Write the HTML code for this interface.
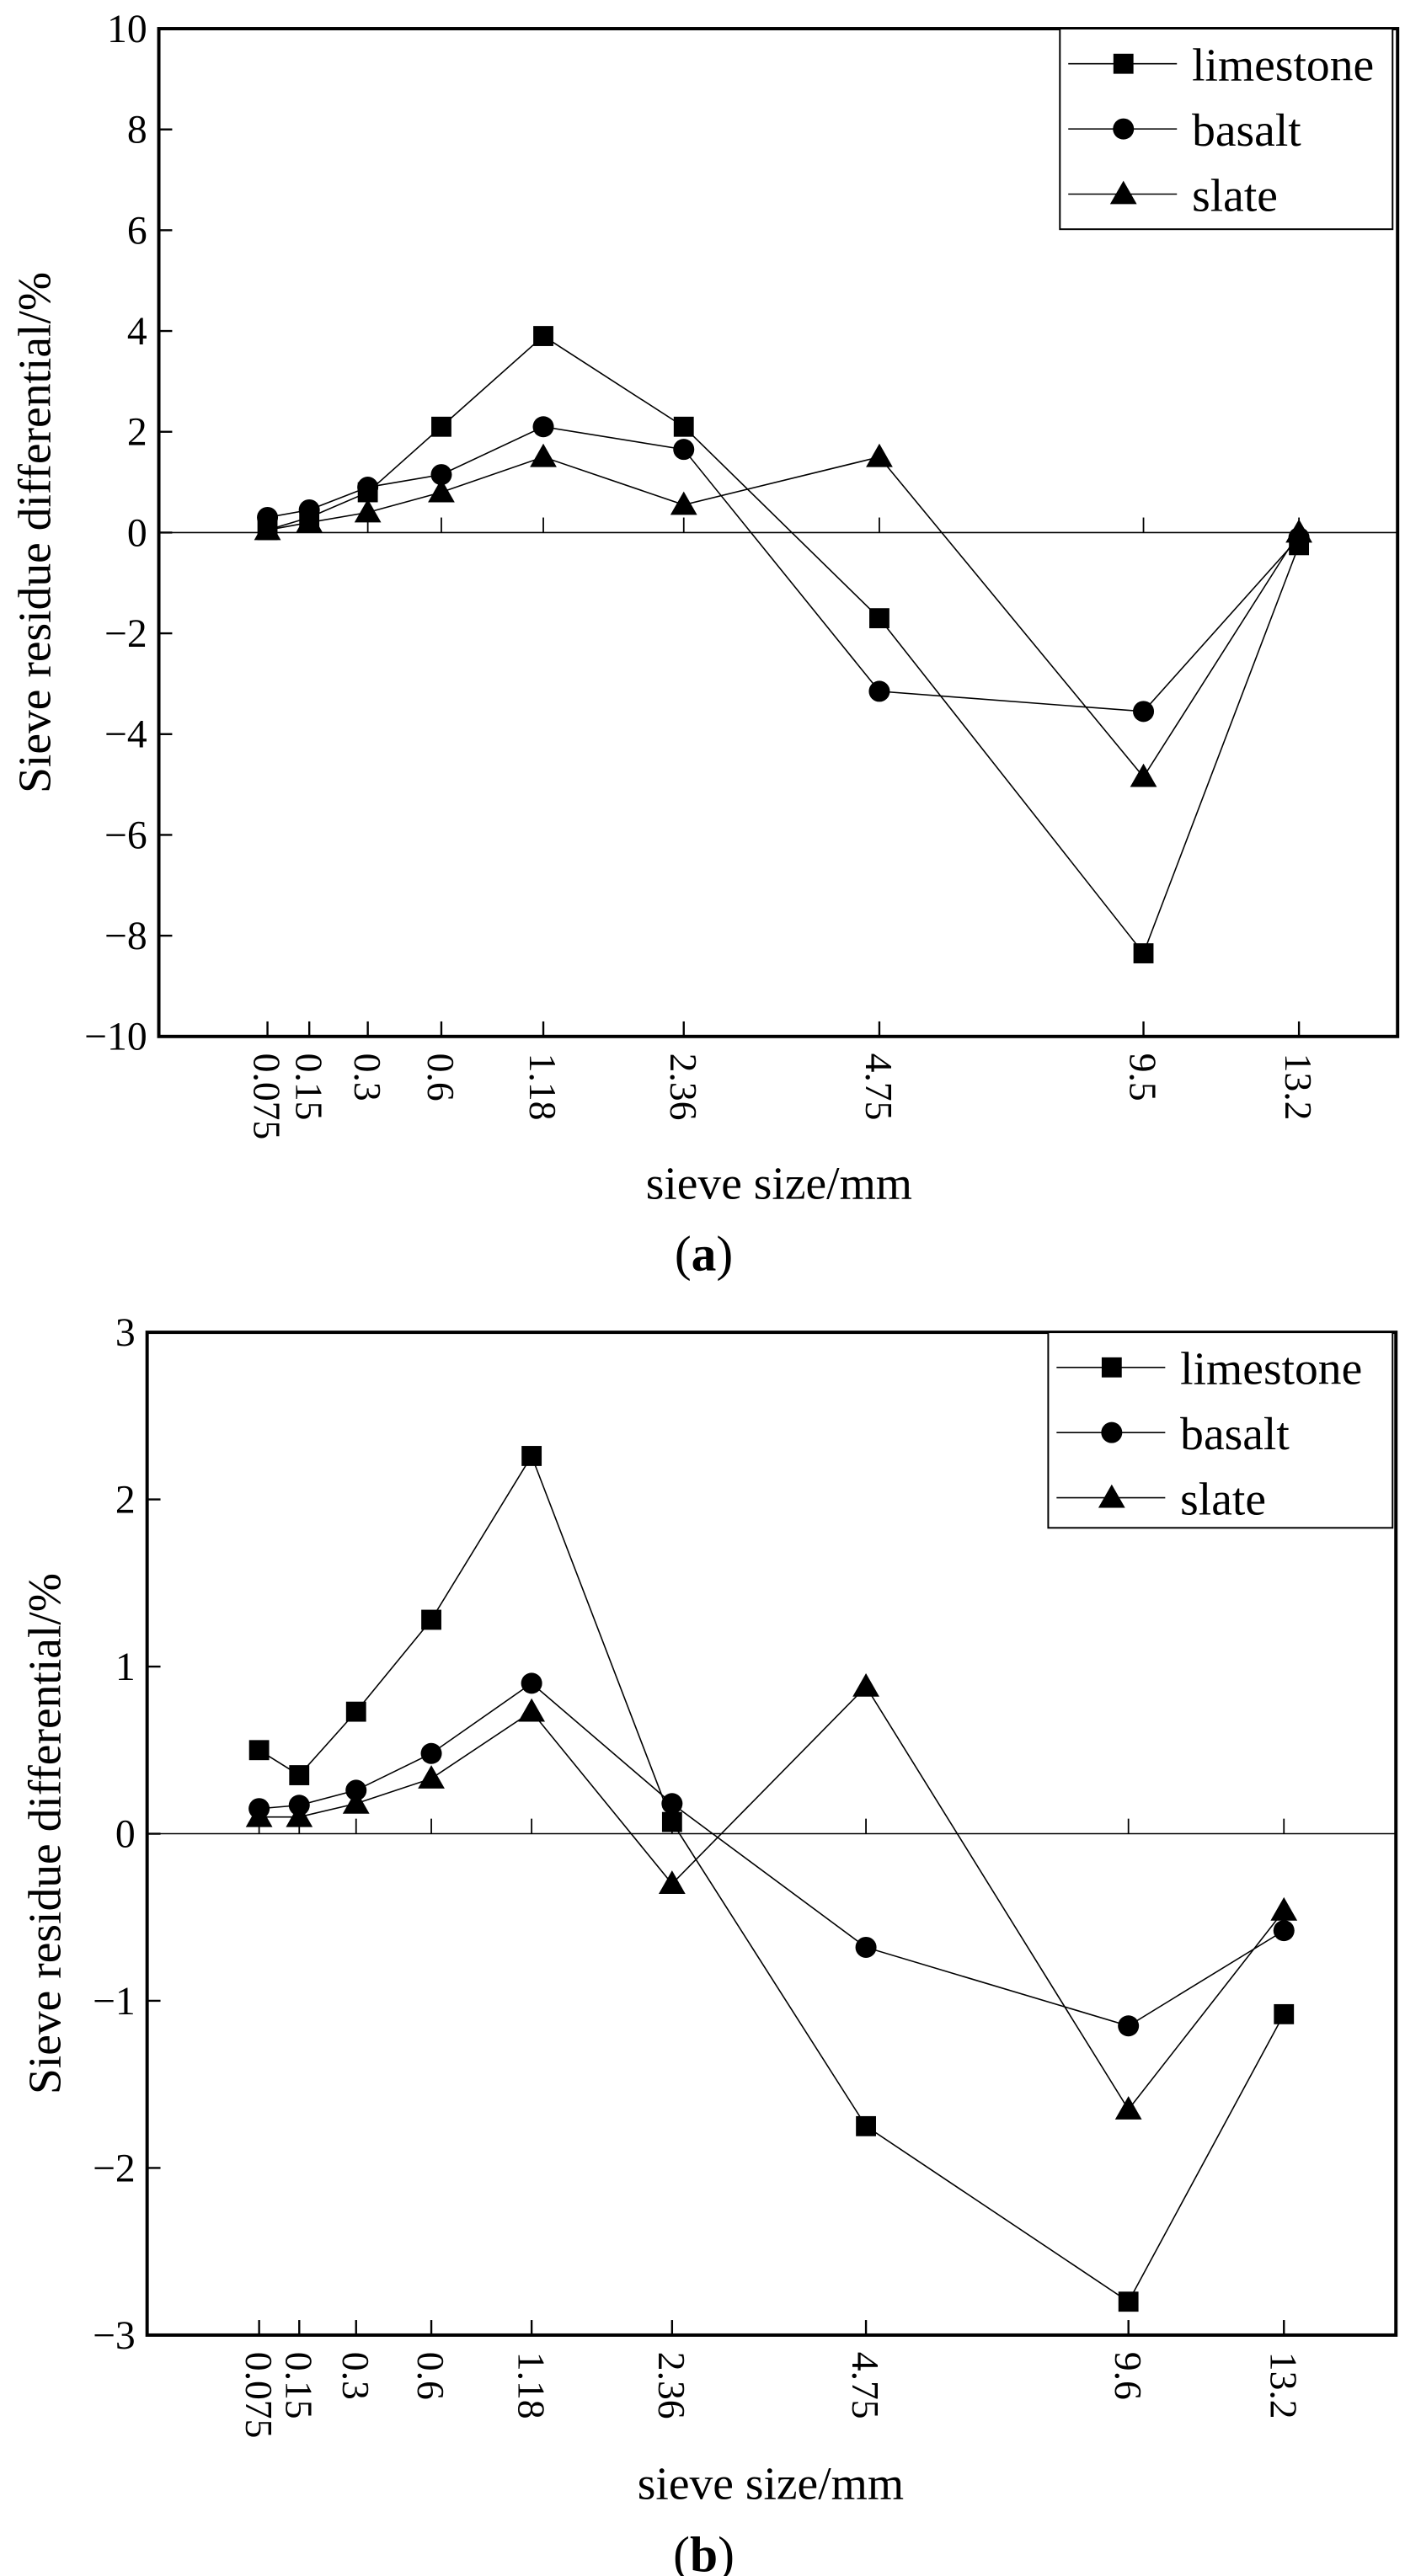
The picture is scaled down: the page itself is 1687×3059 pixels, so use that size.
<!DOCTYPE html>
<html><head><meta charset="utf-8"><style>
html,body{margin:0;padding:0;background:#fff;}
svg{display:block;font-family:"Liberation Serif",serif;}
</style></head>
<body>
<svg id="fig" width="1687" height="3059" viewBox="0 0 850 1541" xmlns="http://www.w3.org/2000/svg"></svg>
<script>
const NS="http://www.w3.org/2000/svg";
const seriesNames=["limestone","basalt","slate"];
const catsA=["0.075","0.15","0.3","0.6","1.18","2.36","4.75","9.5","13.2"];
const catsB=["0.075","0.15","0.3","0.6","1.18","2.36","4.75","9.6","13.2"];
const limestoneA=[0.05,0.3,0.8,2.1,3.9,2.1,-1.7,-8.35,-0.25];
const basaltA=[0.3,0.45,0.9,1.15,2.1,1.65,-3.15,-3.55,-0.1];
const slateA=[0.05,0.2,0.4,0.8,1.5,0.55,1.5,-4.85,0.0];
const limestoneB=[0.5,0.35,0.73,1.28,2.26,0.07,-1.75,-2.8,-1.08];
const basaltB=[0.15,0.17,0.26,0.48,0.9,0.18,-0.68,-1.15,-0.58];
const slateB=[0.1,0.1,0.18,0.33,0.73,-0.3,0.88,-1.65,-0.46];
const yTicksA=[10,8,6,4,2,0,-2,-4,-6,-8,-10];
const yTicksB=[3,2,1,0,-1,-2,-3];

const svg=document.getElementById('fig');
function el(tag,attrs,parent){const e=document.createElementNS(NS,tag);for(const k in attrs)e.setAttribute(k,attrs[k]);(parent||svg).appendChild(e);return e;}
function fmt(v){return v<0?"\u2212"+(-v):String(v);}

function marker(g,type,x,y){
  let m;
  if(type===0){m=el('rect',{x:x-6,y:y-6,width:12,height:12,fill:'#000'},g);}
  else if(type===1){m=el('circle',{cx:x,cy:y,r:6.3,fill:'#000'},g);}
  else{m=el('polygon',{points:`${x},${y-8} ${x-8},${y+6} ${x+8},${y+6}`,fill:'#000'},g);}
  return m;
}

function chart(cfg){
  const g=el('g',{});
  
  
  const {L,R,T,B,ymin,ymax,xpos}=cfg;
  const ys=v=>B-(v-ymin)/(ymax-ymin)*(B-T);
  const xs=i=>L+xpos[i]*(R-L);
  const z=el('line',{x1:L,x2:R,y1:ys(0),y2:ys(0),stroke:'#000','stroke-width':0.8},g);
  
  
  cfg.yTicks.forEach(v=>{
    el('line',{x1:L,x2:L+8,y1:ys(v),y2:ys(v),stroke:'#000','stroke-width':1.2},g);
    const t=el('text',{x:L-7,y:ys(v)+8,'text-anchor':'end','font-size':24},g);
    t.textContent=fmt(v);
    
    
  });
  cfg.cats.forEach((c,i)=>{
    el('line',{x1:xs(i),x2:xs(i),y1:B,y2:B-9,stroke:'#000','stroke-width':1.2},g);
    el('line',{x1:xs(i),x2:xs(i),y1:ys(0),y2:ys(0)-9,stroke:'#000','stroke-width':0.9},g);
    const t=el('text',{x:0,y:0,'font-size':23,transform:`translate(${xs(i)-8},${B+10}) rotate(90)`},g);
    t.textContent=c;
    
    
  });
  cfg.series.forEach((vals,s)=>{
    const sg=el('g',{},g);
    
    
    el('polyline',{points:vals.map((v,i)=>xs(i)+','+ys(v)).join(' '),fill:'none',stroke:'#000','stroke-width':0.8},sg);
    vals.forEach((v,i)=>{
      const m=marker(sg,s,xs(i),ys(v));
      
      
    });
  });
  const f=el('rect',{x:L,y:T,width:R-L,height:B-T,fill:'none',stroke:'#000','stroke-width':2},g);
  
  
  const lg=el('g',{},g);
  
  
  const lx=cfg.leg[0],ly=cfg.leg[1],lw=cfg.leg[2],lh=cfg.leg[3];
  el('rect',{x:lx,y:ly,width:lw,height:lh,fill:'#fff',stroke:'#000','stroke-width':1},lg);
  seriesNames.forEach((n,s)=>{
    const yy=ly+21+s*39;
    el('line',{x1:lx+5,x2:lx+70,y1:yy,y2:yy,stroke:'#000','stroke-width':0.8},lg);
    marker(lg,s,lx+38,yy);
    const t=el('text',{x:lx+79,y:yy+10,'font-size':28},lg);
    t.textContent=n;
    
    
  });
  const yt=el('text',{x:0,y:0,'font-size':28,'text-anchor':'middle',transform:`translate(${cfg.ytx},${(T+B)/2}) rotate(-90)`},g);
  yt.textContent='Sieve residue differential/%';
  
  
  const xt=el('text',{x:cfg.xtx,y:cfg.xty,'font-size':28,'text-anchor':'middle'},g);
  xt.textContent='sieve size/mm';
  
  
  const cap=el('text',{x:421,y:cfg.capy,'font-size':30,'text-anchor':'middle'},g);
  cap.innerHTML='(<tspan font-weight="bold">'+cfg.cap+'</tspan>)';
  
  
}
const posA=[160,185,220,264,325,409,526,684,777].map(v=>(v-95)/(836-95));
const posB=[155,179,213,258,318,402,518,675,768].map(v=>(v-88)/(835-88));
chart({name:'chart-a',L:95,R:836,T:17,B:620,ymin:-10,ymax:10,xpos:posA,cats:catsA,
  series:[limestoneA,basaltA,slateA],yTicks:yTicksA,leg:[634,17,199,120],ytx:30,xtx:466,xty:717,cap:'a',capy:760});
chart({name:'chart-b',L:88,R:835,T:797,B:1397,ymin:-3,ymax:3,xpos:posB,cats:catsB,
  series:[limestoneB,basaltB,slateB],yTicks:yTicksB,leg:[627,797,206,117],ytx:36,xtx:461,xty:1495,cap:'b',capy:1538});
</script>
</body></html>
